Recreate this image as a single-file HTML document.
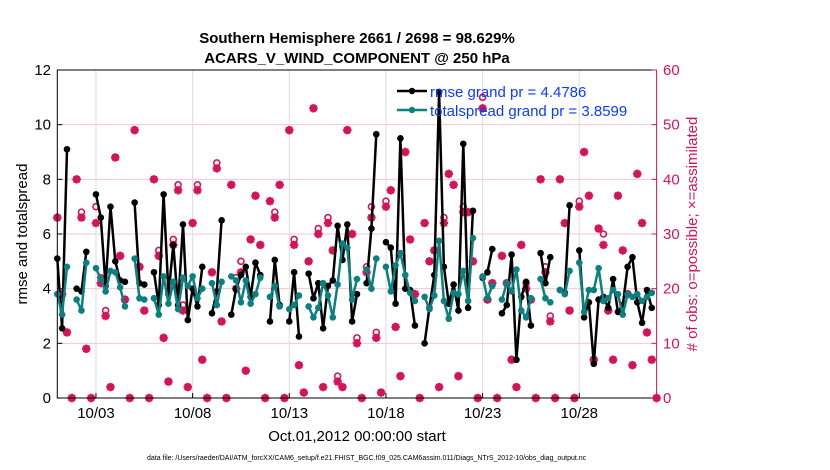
<!DOCTYPE html>
<html><head><meta charset="utf-8"><style>
body{margin:0;background:#fff;}
svg{display:block;font-family:"Liberation Sans",sans-serif;}
</style></head><body>
<svg id="chart" width="830" height="470" viewBox="0 0 830 470">
<text x="357" y="43" text-anchor="middle" font-size="15" font-weight="bold">Southern Hemisphere 2661 / 2698 = 98.629%</text>
<text x="357" y="63" text-anchor="middle" font-size="15" font-weight="bold">ACARS_V_WIND_COMPONENT @ 250 hPa</text>
<g id="grid"></g>
<g id="marks"></g>
<g id="axes"></g>
<text transform="translate(27,234) rotate(-90)" text-anchor="middle" font-size="15">rmse and totalspread</text>
<text transform="translate(697,234) rotate(-90)" text-anchor="middle" font-size="15" fill="#d5135a"># of obs: o=possible; ×=assimilated</text>
<text x="357" y="441" text-anchor="middle" font-size="15">Oct.01,2012 00:00:00 start</text>
<text x="147" y="460" font-size="7">data file: /Users/raeder/DAI/ATM_forcXX/CAM6_setup/f.e21.FHIST_BGC.f09_025.CAM6assim.011/Diags_NTrS_2012-10/obs_diag_output.nc</text>
<g>
<line x1="397" y1="91" x2="427" y2="91" stroke="#000" stroke-width="2.5"/>
<circle cx="412" cy="91" r="3.2" fill="#000"/>
<text x="430" y="97" font-size="15" fill="#0a3cff">rmse grand pr = 4.4786</text>
<line x1="397" y1="110" x2="427" y2="110" stroke="#0b8080" stroke-width="2.5"/>
<circle cx="412" cy="110" r="3.2" fill="#0b8080"/>
<text x="430" y="116" font-size="15" fill="#0a3cff">totalspread grand pr = 3.8599</text>
</g>
</svg>
<script>
const rmse=[5.1,2.55,9.1,null,4.0,3.9,5.35,null,7.45,6.6,4.1,7.0,5.0,4.3,4.25,null,7.15,4.2,4.15,null,4.6,3.4,7.45,3.8,5.6,3.4,6.35,2.85,4.0,3.35,4.8,null,3.1,3.9,6.5,null,3.05,4.0,4.5,4.8,3.7,4.95,4.5,null,2.8,5.05,3.4,null,2.8,4.6,2.25,null,4.55,3.65,4.2,2.55,4.1,4.3,6.3,5.05,6.35,2.8,3.8,null,4.2,6.2,9.65,null,5.7,5.5,3.45,9.5,4.0,3.95,2.65,null,2.0,3.3,4.5,11.2,4.8,3.45,4.15,3.2,9.3,3.3,6.85,null,4.4,4.6,5.45,null,3.1,3.4,5.25,1.4,3.7,4.25,2.65,null,5.3,4.2,5.15,null,3.95,3.85,7.05,null,5.4,2.95,3.5,1.25,3.6,3.7,3.3,4.35,3.15,3.4,4.8,5.15,3.5,2.75,3.95,3.3,null];
const spread=[3.8,3.05,4.8,null,3.6,3.2,4.95,null,4.75,4.35,3.9,4.65,4.6,4.05,3.35,null,5.1,3.65,3.6,null,3.65,3.05,4.45,3.45,4.25,3.25,4.4,4.1,4.45,3.65,4.0,null,4.2,3.4,4.25,null,4.45,4.3,3.5,4.3,3.45,3.8,4.4,null,3.7,4.1,3.35,null,3.25,3.4,3.75,null,3.35,2.95,3.3,4.2,3.75,2.95,4.15,5.65,5.5,3.6,4.35,null,4.7,4.0,5.1,null,4.8,3.9,4.85,5.3,4.5,3.85,3.55,null,3.7,3.25,3.75,5.75,3.55,2.9,3.85,3.8,4.65,3.55,5.85,null,4.45,3.65,4.1,null,3.6,4.2,3.9,4.7,3.2,2.95,3.65,null,4.35,3.65,3.5,null,3.95,3.8,4.65,null,4.95,3.15,3.95,3.95,4.75,3.55,3.65,3.95,3.8,3.05,3.8,3.7,3.8,3.55,3.7,3.85,null];
const possible=[33,19,12,0,40,34,9,0,35,22,16,2,44,26,18,0,49,24,16,0,40,27,11,3,29,39,17,2,32,39,7,0,23,43,14,0,39,22,25,5,29,37,28,0,36,34,39,0,49,29,6,1,25,53,31,2,33,27,4,2,49,30,11,0,24,35,12,1,36,38,13,4,45,29,19,0,32,25,27,2,33,41,39,4,35,34,25,0,55,18,21,0,26,21,7,2,28,21,18,0,40,24,15,0,40,32,16,0,36,45,37,7,31,30,16,7,37,27,19,6,41,32,12,7,0];
const assimilated=[33,19,12,0,40,33,9,0,32,21,15,2,44,26,18,0,49,24,16,0,40,26,11,3,28,38,16,2,32,38,7,0,23,42,14,0,39,20,23,5,29,37,28,0,36,33,39,0,49,28,6,1,25,53,30,2,32,27,3,2,49,30,10,0,23,33,11,1,35,38,13,4,45,29,19,0,32,25,27,2,32,41,39,4,34,34,25,0,53,18,21,0,26,21,7,2,28,20,18,0,40,23,14,0,40,32,16,0,35,45,37,7,31,28,16,7,37,27,19,6,41,32,12,7,0];
const tickLabels=["10/03","10/08","10/13","10/18","10/23","10/28"];
const tickDays=[2,7,12,17,22,27];
const leftTicks=[0,2,4,6,8,10,12];
const rightTicks=[0,10,20,30,40,50,60];

const NS="http://www.w3.org/2000/svg";
const X0=57.3,X1=656.6,Y0=398,Y1=70,DAYS=31;
const xDay=d=>X0+(X1-X0)*d/DAYS;
const xIdx=i=>xDay(i/4);
const yL=v=>Y0-(Y0-Y1)*v/12;
const yR=v=>Y0-(Y0-Y1)*v/60;
const PINK="#d5135a";
function mk(tag,attrs,parent){const e=document.createElementNS(NS,tag);for(const k in attrs)e.setAttribute(k,attrs[k]);parent.appendChild(e);return e;}
const grid=document.getElementById('grid'),marks=document.getElementById('marks'),axes=document.getElementById('axes');

leftTicks.forEach(v=>{if(v>0&&v<12){const l=mk('line',{x1:X0,x2:X1,y1:yL(v),y2:yL(v),stroke:'#f4c6d6','stroke-width':1},grid);

}});
tickDays.forEach((d,k)=>{const l=mk('line',{x1:xDay(d),x2:xDay(d),y1:Y1,y2:Y0,stroke:'#dcdcdc','stroke-width':1},grid);


const t=mk('text',{x:xDay(d),y:418,'text-anchor':'middle','font-size':15},axes);t.textContent=tickLabels[k];


const tk=mk('line',{x1:xDay(d),x2:xDay(d),y1:Y0,y2:Y0-5,stroke:'#000'},axes);

});

// obs markers
possible.forEach((v,i)=>{const c=mk('circle',{cx:xIdx(i),cy:yR(v),r:3,fill:'none',stroke:PINK,'stroke-width':1.6},marks);

});
assimilated.forEach((v,i)=>{const x=xIdx(i),y=yR(v),r=4.2;
const p=mk('path',{d:`M${x-r} ${y}L${x+r} ${y}M${x} ${y-r}L${x} ${y+r}M${x-3} ${y-3}L${x+3} ${y+3}M${x-3} ${y+3}L${x+3} ${y-3}`,stroke:PINK,'stroke-width':2.4},marks);

});

function series(arr,color,name){
 let d='';let pen=false;
 arr.forEach((v,i)=>{if(v==null){pen=false;return;}d+=(pen?'L':'M')+xIdx(i).toFixed(1)+' '+yL(v).toFixed(1);pen=true;});
 const p=mk('path',{d:d,fill:'none',stroke:color,'stroke-width':2.5,'stroke-linejoin':'round'},marks);
 
 
 arr.forEach((v,i)=>{if(v==null)return;const c=mk('circle',{cx:xIdx(i),cy:yL(v),r:3.3,fill:color},marks);
 
 });
}
series(rmse,'#000','rmse');
series(spread,'#0b8080','totalspread');

// axes box
let a=mk('path',{d:`M${X1} ${Y1}L${X0} ${Y1}L${X0} ${Y0}L${X1} ${Y0}`,fill:'none',stroke:'#000','stroke-width':1},axes);


a=mk('line',{x1:X1,x2:X1,y1:Y1,y2:Y0,stroke:PINK,'stroke-width':1},axes);


leftTicks.forEach(v=>{const t=mk('text',{x:51,y:yL(v)+5,'text-anchor':'end','font-size':15},axes);t.textContent=v;


const tk=mk('line',{x1:X0,x2:X0+5,y1:yL(v),y2:yL(v),stroke:'#000'},axes);

});
rightTicks.forEach(v=>{const t=mk('text',{x:663,y:yR(v)+5,'font-size':15,fill:PINK},axes);t.textContent=v;


const tk=mk('line',{x1:X1,x2:X1-5,y1:yR(v),y2:yR(v),stroke:PINK},axes);

});
</script>
</body></html>
